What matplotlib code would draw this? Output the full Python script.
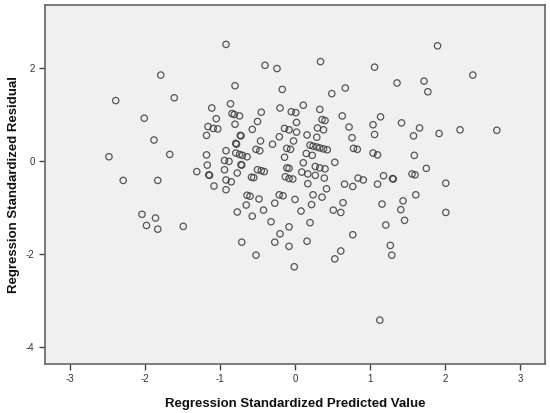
import matplotlib
matplotlib.use("Agg")
import matplotlib.pyplot as plt

# Regression Standardized Predicted Value (x) and Residual (y)
pred = [
    -1.79, -2.39, -1.61, -2.01, -1.11, -1.05, -1.16, -1.09, -1.03, -1.18,
    -1.88, -2.48, -1.67, -1.18, -1.17, -1.31, -1.14, -1.15, -2.29, -1.83,
    -1.08, -2.04, -1.86, -1.98, -1.83, -1.49,
    -0.92, -0.40, -0.24, 0.34, 1.06, -0.80, -0.17, 0.67, 0.49, -0.86,
    -0.45, -0.20, -0.05, 0.01, 0.11, 0.33, 0.63, -0.84, -0.81, -0.74,
    -0.50, 0.02, 0.36, 0.40, 1.14, -0.80, -0.57, -0.14, -0.08, 0.02,
    0.30, 0.38, 0.72, 1.04, -0.73, -0.72, -0.21, 0.16, 0.29, 0.76,
    1.06, -0.79, -0.78, -0.46, -0.30, -0.02, 0.20, 0.24, 0.29, 0.33,
    0.38, 0.43, -0.11, -0.06, 0.78, 0.83, 1.04, 1.10, -0.92, -0.79,
    -0.74, -0.70, -0.64, -0.52, -0.47, -0.14, 0.15, 0.23, -0.94, -0.88,
    -0.71, -0.72, 0.11, 0.27, 0.33, 0.40, 0.53, -0.94, -0.77, -0.50,
    -0.45, -0.41, -0.11, -0.08, 0.09, 0.17, 0.27, 0.39, -0.58, -0.55,
    -0.13, -0.08, -0.03, 0.84, 0.91, -0.92, -0.85, 0.17, 0.42, 0.66,
    0.77, 1.10,
    1.90, 2.37, 1.36, 1.72, 1.77, 1.42, 1.66, 1.58, 1.92, 2.20,
    2.69, 1.59, 1.75, 1.56, 1.60, 1.18, 1.31, 1.30, 2.01, 1.61,
    1.16, 1.44, 1.41, 2.01, 1.46, 1.21, 1.27, 1.29, 1.13,
    -0.92, -0.64, -0.60, -0.48, -0.21, -0.16, 0.00, -0.65, -0.27, -0.77,
    -0.57, -0.42, 0.08, -0.32, -0.08, -0.20, -0.71, -0.27, -0.08, -0.52,
    -0.01, 0.24, 0.36, 0.22, 0.64, 0.51, 0.61, 0.20, 0.77, 0.16,
    0.61, 0.53,
]
resid = [
    1.85, 1.30, 1.36, 0.92, 1.14, 0.91, 0.74, 0.70, 0.69, 0.55,
    0.45, 0.09, 0.14, 0.13, -0.09, -0.23, -0.31, -0.30, -0.42, -0.42,
    -0.54, -1.15, -1.23, -1.39, -1.47, -1.41,
    2.51, 2.06, 1.99, 2.14, 2.02, 1.62, 1.54, 1.57, 1.45, 1.23,
    1.05, 1.14, 1.06, 1.04, 1.20, 1.11, 0.97, 1.02, 1.00, 0.97,
    0.85, 0.83, 0.89, 0.87, 0.95, 0.79, 0.68, 0.70, 0.67, 0.62,
    0.71, 0.67, 0.73, 0.78, 0.55, 0.54, 0.52, 0.56, 0.51, 0.50,
    0.57, 0.38, 0.36, 0.43, 0.36, 0.43, 0.34, 0.32, 0.30, 0.28,
    0.26, 0.24, 0.27, 0.25, 0.27, 0.25, 0.17, 0.13, 0.22, 0.17,
    0.14, 0.12, 0.09, 0.25, 0.22, 0.08, 0.16, 0.12, 0.01, -0.01,
    -0.09, -0.08, -0.04, -0.12, -0.15, -0.17, -0.03, -0.19, -0.26, -0.19,
    -0.21, -0.23, -0.15, -0.16, -0.24, -0.28, -0.31, -0.37, -0.35, -0.36,
    -0.34, -0.38, -0.39, -0.37, -0.41, -0.41, -0.45, -0.49, -0.60, -0.50,
    -0.55, -0.50,
    2.48, 1.85, 1.68, 1.72, 1.49, 0.82, 0.71, 0.54, 0.59, 0.67,
    0.66, 0.12, -0.16, -0.28, -0.30, -0.32, -0.39, -0.38, -0.48, -0.73,
    -0.93, -0.86, -1.05, -1.11, -1.28, -1.38, -1.82, -2.03, -3.43,
    -0.62, -0.74, -0.76, -0.82, -0.73, -0.75, -0.83, -0.95, -0.91, -1.10,
    -1.19, -1.06, -1.08, -1.31, -1.42, -1.57, -1.75, -1.75, -1.84, -2.03,
    -2.28, -0.73, -0.78, -0.94, -0.90, -1.06, -1.11, -1.33, -1.59, -1.73,
    -1.94, -2.11,
]

x_ticks = [-3, -2, -1, 0, 1, 2, 3]
y_ticks = [-4, -2, 0, 2]
x_label = "Regression Standardized Predicted Value"
y_label = "Regression Standardized Residual"

fig = plt.figure(figsize=(5.5, 4.13), dpi=100)
fig.patch.set_facecolor("white")
ax = fig.add_axes([0.0818, 0.1186, 0.9092, 0.8694])
ax.set_facecolor("#f0f0f0")

ax.scatter(pred, resid, s=21, facecolors="none", edgecolors="#3a3a3a",
           linewidths=0.9, alpha=0.85, zorder=3)

ax.set_xlim(-3.333, 3.333)
ax.set_ylim(-4.375, 3.36)
ax.set_xticks(x_ticks)
ax.set_yticks(y_ticks)
ax.set_xticklabels([str(v) for v in x_ticks], fontsize=7, color="#333333",
                   family="Liberation Sans")
ax.set_yticklabels([str(v) for v in y_ticks], fontsize=7, color="#333333",
                   family="Liberation Sans")
ax.tick_params(direction="out", length=4.5, width=1, color="#444444", pad=3)
for sp in ax.spines.values():
    sp.set_color("#666666")
    sp.set_linewidth(1.2)

ax.set_xlabel(x_label, fontsize=9.5, fontweight="bold", family="Liberation Sans",
              color="#111111", labelpad=10)
ax.set_ylabel(y_label, fontsize=9.5, fontweight="bold", family="Liberation Sans",
              color="#111111", labelpad=4)

fig.savefig("out.png", dpi=100)
